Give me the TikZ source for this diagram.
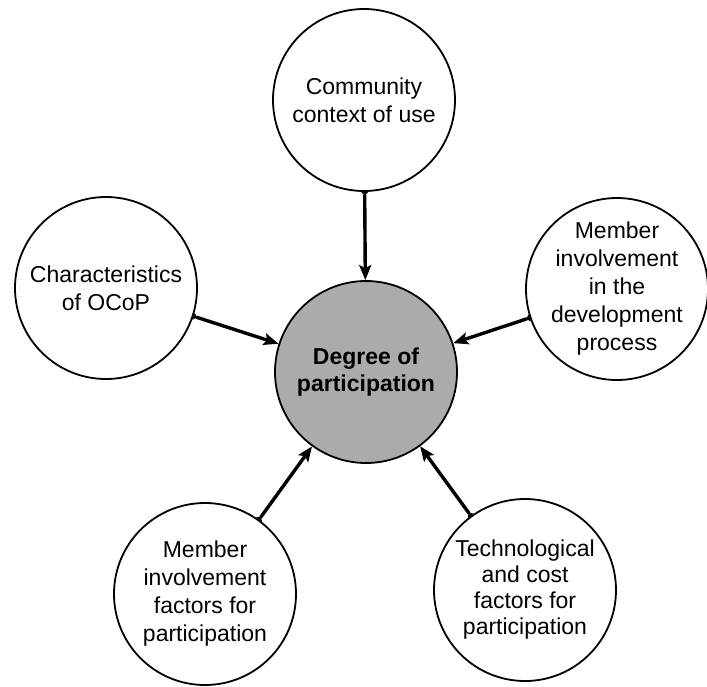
\documentclass[tikz,border=0pt]{standalone}
\usepackage{fontspec}
\setmainfont{Liberation Sans}
\usetikzlibrary{arrows.meta}

\tikzset{
  bubble/.style={circle, draw=black, line width=1.8pt, fill=white,
                 minimum size=182pt, inner sep=0pt},
  hub/.style={bubble, fill=black!33},
  label text/.style={align=center, inner sep=0pt,
                     font=\fontsize{23}{28}\selectfont},
  hub text/.style={align=center, inner sep=0pt,
                   font=\fontsize{23}{27}\selectfont\bfseries},
  feeds/.style={line width=3.4pt,
                {Triangle[reversed,length=4pt,width=7pt]}-{Stealth[length=15pt,width=12pt,inset=3pt]}}
}

\begin{document}
\begin{tikzpicture}[x=1pt,y=-1pt]
  \useasboundingbox (0,0) rectangle (707,686);

  % circles
  \node[hub]    (dop)  at (366,372) {};
  \node[bubble] (ctx)  at (364,100) {};
  \node[bubble] (chr)  at (106,288) {};
  \node[bubble] (dev)  at (617,289) {};
  \node[bubble] (mif)  at (205,594) {};
  \node[bubble] (tcf)  at (525,590) {};

  % texts
  \node[hub text]   (tdop) at (dop) {Degree of\\participation};
  \node[label text] (tctx) at (ctx) {Community\\context of use};
  \node[label text] (tchr) at (chr) {Characteristics\\of OCoP};
  \node[label text] (tdev) at (dev) {Member\\involvement\\in the\\development\\process};
  \node[label text] (tmif) at (mif) {Member\\involvement\\factors for\\participation};
  \node[label text, font=\fontsize{23}{26}\selectfont] (ttcf) at (tcf)
       {Technological\\and cost\\factors for\\participation};

  % connectors into the hub
  \draw[feeds] (ctx) -- (dop);
  \draw[feeds] (chr) -- (dop);
  \draw[feeds] (dev) -- (dop);
  \draw[feeds] (mif) -- (dop);
  \draw[feeds] (tcf) -- (dop);
\end{tikzpicture}
\end{document}
